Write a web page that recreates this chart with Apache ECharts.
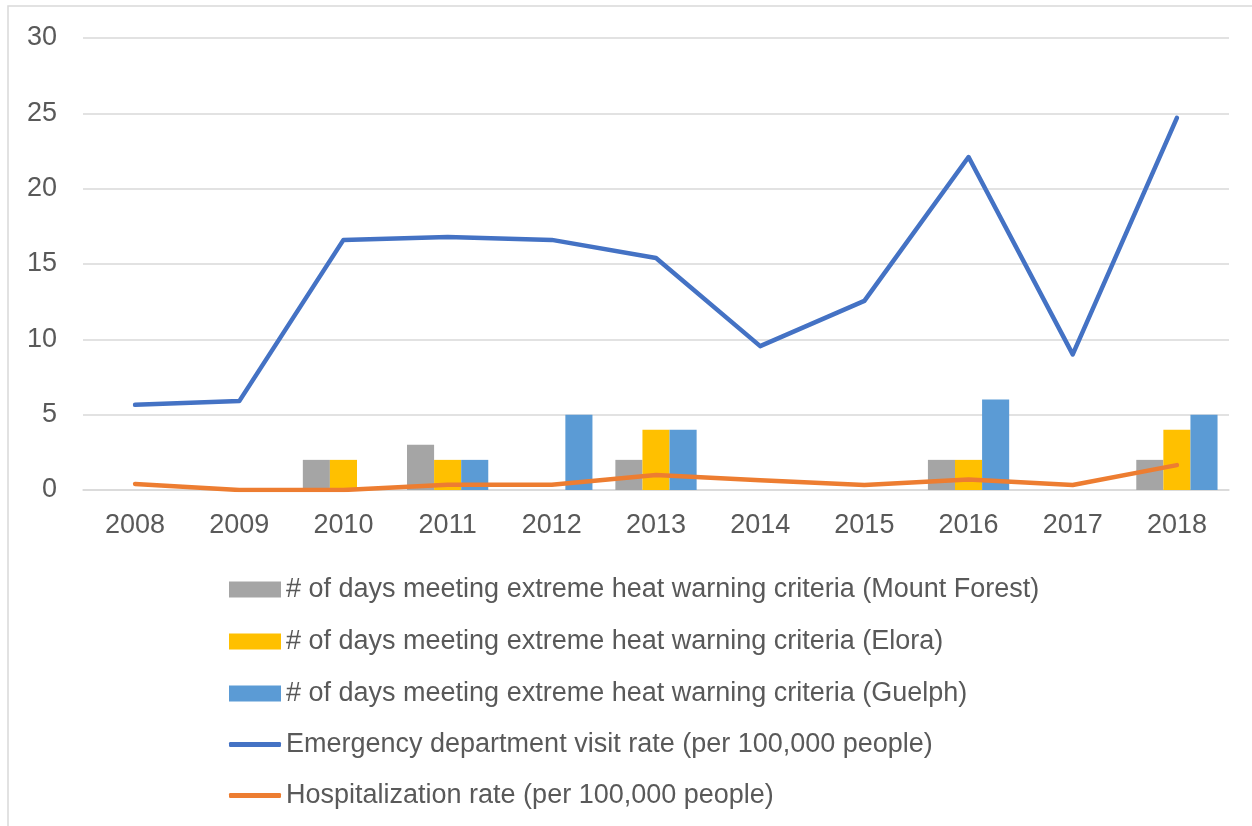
<!DOCTYPE html>
<html>
<head>
<meta charset="utf-8">
<script src="https://cdn.jsdelivr.net/npm/echarts@6/dist/echarts.min.js"></script>
<style>
html,body{margin:0;padding:0;background:#fff;}
#chart{width:1252px;height:826px;}
</style>
</head>
<body>
<div id="chart"></div>
<script>
// years on the x axis
var years = ['2008','2009','2010','2011','2012','2013','2014','2015','2016','2017','2018'];
// days meeting extreme heat warning criteria
var mountForest = [0, 0, 2, 3, 0, 2, 0, 0, 2, 0, 2];
var elora       = [0, 0, 2, 2, 0, 4, 0, 0, 2, 0, 4];
var guelph      = [0, 0, 0, 2, 5, 4, 0, 0, 6, 0, 5];
// rates per 100,000 people
var edVisits    = [5.65, 5.9, 16.6, 16.8, 16.6, 15.4, 9.55, 12.55, 22.1, 9.0, 24.7];
var hospital    = [0.4, 0.0, 0.0, 0.35, 0.35, 1.0, 0.65, 0.33, 0.7, 0.33, 1.65];

var names = [
  '# of days meeting extreme heat warning criteria (Mount Forest)',
  '# of days meeting extreme heat warning criteria (Elora)',
  '# of days meeting extreme heat warning criteria (Guelph)',
  'Emergency department visit rate (per 100,000 people)',
  'Hospitalization rate (per 100,000 people)'
];

var font = 'Liberation Sans, Arial, sans-serif';
var myChart = echarts.init(document.getElementById('chart'));

function barSerie(name, data, color){
  return {
    name: name,
    type: 'bar',
    data: data.map(function(v){ return v === 0 ? null : v; }),
    barGap: '0%',
    barCategoryGap: '22%',
    itemStyle: { color: color },
    silent: true
  };
}
function lineSerie(name, data, color){
  return {
    name: name,
    type: 'line',
    data: data,
    symbol: 'none',
    lineStyle: { color: color, width: 4.5, cap: 'round', join: 'round' },
    itemStyle: { color: color },
    z: 5
  };
}

var legendText = { fontFamily: font, fontSize: 27, color: '#595959', padding: [0, 0, 0, 0] };

var option = {
  animation: false,
  graphic: [{
    type: 'rect',
    shape: { x: 8, y: 6, width: 1300, height: 900 },
    style: { fill: 'none', stroke: '#d9d9d9', lineWidth: 1.5 },
    silent: true
  }],
  grid: { left: 83, right: 23, top: 38, height: 452 },
  legend: [{
    orient: 'vertical',
    left: 224,
    top: 571,
    itemWidth: 52,
    itemHeight: 16,
    itemGap: 25,
    icon: 'rect',
    textStyle: legendText,
    data: names.slice(0, 3)
  }, {
    orient: 'vertical',
    left: 224,
    top: 726,
    itemWidth: 52,
    itemHeight: 5,
    itemGap: 24,
    icon: 'roundRect',
    textStyle: legendText,
    data: names.slice(3)
  }],
  xAxis: {
    type: 'category',
    data: years,
    axisLine: { show: true, lineStyle: { color: '#d9d9d9', width: 1.5 } },
    axisTick: { show: false },
    axisLabel: { fontFamily: font, fontSize: 27, color: '#595959', margin: 22 }
  },
  yAxis: {
    type: 'value',
    min: 0,
    max: 30,
    interval: 5,
    axisLine: { show: false },
    axisTick: { show: false },
    axisLabel: { fontFamily: font, fontSize: 27, color: '#595959', margin: 26 },
    splitLine: { lineStyle: { color: '#d9d9d9', width: 1.5 } }
  },
  series: [
    barSerie(names[0], mountForest, '#a5a5a5'),
    barSerie(names[1], elora, '#ffc000'),
    barSerie(names[2], guelph, '#5b9bd5'),
    lineSerie(names[3], edVisits, '#4472c4'),
    lineSerie(names[4], hospital, '#ed7d31')
  ]
};
myChart.setOption(option);
</script>
</body>
</html>
